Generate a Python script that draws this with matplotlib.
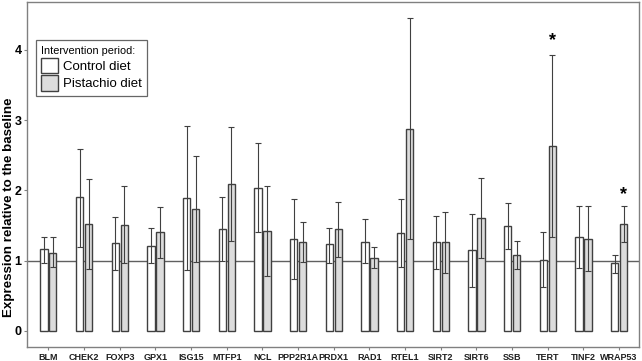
import numpy as np
import matplotlib
matplotlib.use('Agg')
import matplotlib.pyplot as plt
from matplotlib.patches import Patch

plt.rcParams['font.family'] = ['Liberation Sans', 'DejaVu Sans']

genes = ['BLM', 'CHEK2', 'FOXP3', 'GPX1', 'ISG15', 'MTFP1', 'NCL', 'PPP2R1A', 'PRDX1',
         'RAD1', 'RTEL1', 'SIRT2', 'SIRT6', 'SSB', 'TERT', 'TINF2', 'WRAP53']

control = [1.16, 1.90, 1.25, 1.21, 1.89, 1.45, 2.04, 1.31, 1.23,
           1.27, 1.39, 1.26, 1.15, 1.49, 1.01, 1.34, 0.96]
control_hi = [1.33, 2.59, 1.62, 1.47, 2.92, 1.91, 2.68, 1.87, 1.47,
              1.59, 1.87, 1.64, 1.67, 1.82, 1.40, 1.78, 1.08]
control_lo = [0.97, 1.19, 0.87, 0.97, 0.87, 1.00, 1.40, 0.74, 0.97,
              0.96, 0.91, 0.88, 0.62, 1.17, 0.62, 0.90, 0.82]

pistachio = [1.11, 1.52, 1.50, 1.41, 1.73, 2.09, 1.42, 1.27, 1.45,
             1.04, 2.87, 1.26, 1.60, 1.08, 2.63, 1.31, 1.52]
pistachio_hi = [1.33, 2.16, 2.06, 1.76, 2.49, 2.90, 2.06, 1.55, 1.84,
                1.19, 4.45, 1.69, 2.18, 1.28, 3.93, 1.78, 1.78]
pistachio_lo = [0.91, 0.88, 0.96, 1.04, 0.98, 1.28, 0.78, 0.98, 1.05,
                0.89, 1.30, 0.82, 1.03, 0.88, 1.33, 0.85, 1.26]

# significant differences (pistachio bar)
signif = {'TERT': 4.13, 'WRAP53': 1.94}

edge = '#404040'
fig = plt.figure(figsize=(6.42, 3.61), dpi=100)
ax = fig.add_axes([0.042, 0.039, 0.953, 0.955])

x = np.arange(len(genes))
w = 0.205
off = 0.125
c = np.array(control)
p = np.array(pistachio)

ax.axhline(1, color='#606060', lw=1.0, zorder=1)

ax.bar(x - off, c, w, color='white', edgecolor=edge, linewidth=1.0, zorder=2)
ax.bar(x + off, p, w, color='#dcdcdc', edgecolor=edge, linewidth=1.0, zorder=2)

ax.errorbar(x - off, c, yerr=[c - np.array(control_lo), np.array(control_hi) - c],
            fmt='none', ecolor=edge, elinewidth=0.8, capsize=2.2, capthick=0.8, zorder=3)
ax.errorbar(x + off, p, yerr=[p - np.array(pistachio_lo), np.array(pistachio_hi) - p],
            fmt='none', ecolor=edge, elinewidth=0.8, capsize=2.2, capthick=0.8, zorder=3)

for g, yv in signif.items():
    i = genes.index(g)
    ax.text(i + off, yv, '*', ha='center', va='center', fontsize=13, fontweight='bold')

ax.set_xlim(-0.6, len(genes) - 1 + 0.55)
ax.set_ylim(-0.23, 4.68)
ax.set_xticks(x)
ax.set_xticklabels(genes, fontsize=6.5, fontweight='bold', color='#202020')
ax.set_yticks([0, 1, 2, 3, 4])
ax.set_yticklabels(['0', '1', '2', '3', '4'], fontsize=9, fontweight='bold')
ax.tick_params(axis='both', length=2.5, color='#808080', pad=2)
ax.tick_params(axis='y', pad=1.5)
ax.set_ylabel('Expression relative to the baseline', fontsize=9.6, fontweight='bold')
ax.yaxis.set_label_coords(-0.02, 0.405)

for s in ax.spines.values():
    s.set_color('#808080')
    s.set_linewidth(1.0)

handles = [Patch(facecolor='white', edgecolor=edge, linewidth=1.0),
           Patch(facecolor='#dcdcdc', edgecolor=edge, linewidth=1.0)]
leg = ax.legend(handles, ['Control diet', 'Pistachio diet'], title='Intervention period:',
                loc='upper left', bbox_to_anchor=(0.014, 0.89), fontsize=9.5,
                title_fontsize=7.8, frameon=True, fancybox=False, edgecolor='#404040',
                handlelength=1.25, handleheight=1.45, handletextpad=0.35, labelspacing=0.12,
                borderpad=0.45, borderaxespad=0)
leg._legend_box.align = 'left'
leg.get_frame().set_linewidth(0.9)

fig.savefig('out.png', dpi=100)
